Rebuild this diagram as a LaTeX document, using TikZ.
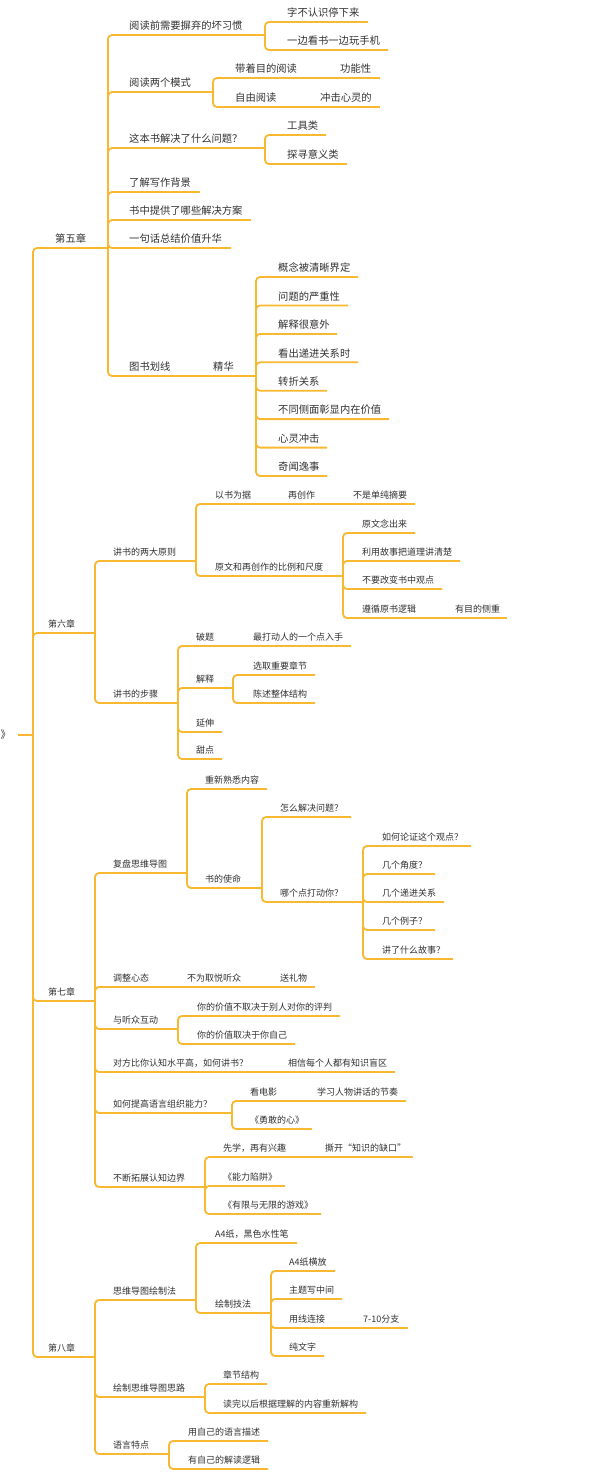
\documentclass[tikz,border=0pt]{standalone}
\usepackage{fontspec}
\newfontfamily\cjk{Noto Sans CJK SC}
\definecolor{lineorange}{RGB}{248,184,48}
\definecolor{textgray}{RGB}{50,50,50}
\tikzset{
  ln/.style={draw=lineorange, line width=1.8pt, rounded corners=4pt},
  lnst/.style={draw=lineorange, line width=1.8pt},
  tx/.style={anchor=south west, inner sep=0pt, text depth=5pt, text=textgray, font=\cjk\fontsize{9}{10}\selectfont},
  txb/.style={tx, font=\cjk\fontsize{10.3}{11}\selectfont},
}
% #1 name, #2 parent, #3 style, #4 text x, #5 line y, #6 line end x, #7 text
\newcommand\mmnode[7]{%
  \node[#3] (#1) at (#4,#5) {#7};
  \coordinate (#1-e) at (#6,#5);
  \draw[ln] (#2-e) |- (#1-e);
}
% same, continuing on the parent's line
\newcommand\mmchain[7]{%
  \node[#3] (#1) at (#4,#5) {#7};
  \coordinate (#1-e) at (#6,#5);
  \draw[lnst] (#2-e) -- (#1-e);
}
\begin{document}
\begin{tikzpicture}[x=1pt,y=-1pt]
\useasboundingbox[fill=white] (0,0) rectangle (597,1475);
% root
\node[txb, anchor=west] (root) at (0.5,737) {》};
\coordinate (root-s) at (18,735);
\coordinate (root-e) at (33,735);
\draw[lnst] (root-s) -- (root-e);
% chapters
\mmnode{ch5}{root}{txb}{55}{248}{108}{第五章}
\mmnode{ch6}{root}{tx}{48}{633}{95}{第六章}
\mmnode{ch7}{root}{tx}{48}{1001}{95}{第七章}
\mmnode{ch8}{root}{tx}{48}{1357}{95}{第八章}
% ---- chapter 5
\mmnode{a1}{ch5}{txb}{129}{35}{265}{阅读前需要摒弃的坏习惯}
\mmnode{a11}{a1}{txb}{287}{22}{368}{字不认识停下来}
\mmnode{a12}{a1}{txb}{287}{50}{388}{一边看书一边玩手机}
\mmnode{a2}{ch5}{txb}{129}{92}{213}{阅读两个模式}
\mmnode{a21}{a2}{txb}{235}{78}{318}{带着目的阅读}
\mmchain{a211}{a21}{txb}{340}{78}{380}{功能性}
\mmnode{a22}{a2}{txb}{235}{107}{298}{自由阅读}
\mmchain{a221}{a22}{txb}{320}{107}{380}{冲击心灵的}
\mmnode{a3}{ch5}{txb}{129}{148}{265}{这本书解决了什么问题？}
\mmnode{a31}{a3}{txb}{287}{135}{326}{工具类}
\mmnode{a32}{a3}{txb}{287}{164}{347}{探寻意义类}
\mmnode{a4}{ch5}{txb}{129}{192}{200}{了解写作背景}
\mmnode{a5}{ch5}{txb}{129}{220}{251}{书中提供了哪些解决方案}
\mmnode{a6}{ch5}{txb}{129}{248}{231}{一句话总结价值升华}
\mmnode{a7}{ch5}{txb}{129}{376}{191}{图书划线}
\mmchain{a71}{a7}{txb}{213}{376}{256}{精华}
\mmnode{a711}{a71}{txb}{278}{277}{358}{概念被清晰界定}
\mmnode{a712}{a71}{txb}{278}{305.4}{348}{问题的严重性}
\mmnode{a713}{a71}{txb}{278}{333.9}{337}{解释很意外}
\mmnode{a714}{a71}{txb}{278}{362.3}{358}{看出递进关系时}
\mmnode{a715}{a71}{txb}{278}{390.7}{327}{转折关系}
\mmnode{a716}{a71}{txb}{278}{419.1}{389}{不同侧面彰显内在价值}
\mmnode{a717}{a71}{txb}{278}{447.6}{327}{心灵冲击}
\mmnode{a718}{a71}{txb}{278}{476}{327}{奇闻逸事}
% ---- chapter 6
\mmnode{b1}{ch6}{tx}{113}{561}{196}{讲书的两大原则}
\mmnode{b11}{b1}{tx}{215}{504}{269}{以书为据}
\mmchain{b111}{b11}{tx}{288}{504}{334}{再创作}
\mmchain{b1111}{b111}{tx}{353}{504}{415}{不是单纯摘要}
\mmnode{b12}{b1}{tx}{215}{576}{343}{原文和再创作的比例和尺度}
\mmnode{b121}{b12}{tx}{362}{533}{415}{原文念出来}
\mmnode{b122}{b12}{tx}{362}{561}{460}{利用故事把道理讲清楚}
\mmnode{b123}{b12}{tx}{362}{589}{442}{不要改变书中观点}
\mmnode{b124}{b12}{tx}{362}{618}{436}{遵循原书逻辑}
\mmchain{b1241}{b124}{tx}{455}{618}{507}{有目的侧重}
\mmnode{b2}{ch6}{tx}{113}{703}{178}{讲书的步骤}
\mmnode{b21}{b2}{tx}{196}{646}{234}{破题}
\mmchain{b211}{b21}{tx}{253}{646}{351}{最打动人的一个点入手}
\mmnode{b22}{b2}{tx}{196}{688}{233}{解释}
\mmnode{b221}{b22}{tx}{253}{675}{315}{选取重要章节}
\mmnode{b222}{b22}{tx}{253}{703}{315}{陈述整体结构}
\mmnode{b23}{b2}{tx}{196}{732}{222}{延伸}
\mmnode{b24}{b2}{tx}{196}{759}{222}{甜点}
% ---- chapter 7
\mmnode{c1}{ch7}{tx}{113}{873}{187}{复盘思维导图}
\mmnode{c11}{c1}{tx}{205}{789}{267}{重新熟悉内容}
\mmnode{c12}{c1}{tx}{205}{888}{262}{书的使命}
\mmnode{c121}{c12}{tx}{280}{817}{351}{怎么解决问题？}
\mmnode{c122}{c12}{tx}{280}{902}{363}{哪个点打动你？}
\mmnode{c1221}{c122}{tx}{382}{846}{471}{如何论证这个观点？}
\mmnode{c1222}{c122}{tx}{382}{874}{435}{几个角度？}
\mmnode{c1223}{c122}{tx}{382}{902}{444}{几个递进关系}
\mmnode{c1224}{c122}{tx}{382}{930}{435}{几个例子？}
\mmnode{c1225}{c122}{tx}{382}{959}{453}{讲了什么故事？}
\mmnode{c2}{ch7}{tx}{113}{987}{168}{调整心态}
\mmchain{c21}{c2}{tx}{187}{987}{261}{不为取悦听众}
\mmchain{c211}{c21}{tx}{280}{987}{315}{送礼物}
\mmnode{c3}{ch7}{tx}{113}{1029}{178}{与听众互动}
\mmnode{c31}{c3}{tx}{197}{1016}{340}{你的价值不取决于别人对你的评判}
\mmnode{c32}{c3}{tx}{197}{1044}{295}{你的价值取决于你自己}
\mmnode{c4}{ch7}{tx}{113}{1072}{268}{对方比你认知水平高，如何讲书？}
\mmchain{c41}{c4}{tx}{288}{1072}{395}{相信每个人都有知识盲区}
\mmnode{c5}{ch7}{tx}{113}{1113}{232}{如何提高语言组织能力？}
\mmnode{c51}{c5}{tx}{250}{1101}{297}{看电影}
\mmchain{c511}{c51}{tx}{317}{1101}{406}{学习人物讲话的节奏}
\mmnode{c52}{c5}{tx}{250}{1129}{312}{《勇敢的心》}
\mmnode{c6}{ch7}{tx}{113}{1187}{205}{不断拓展认知边界}
\mmnode{c61}{c6}{tx}{223}{1157}{306}{先学，再有兴趣}
\mmchain{c611}{c61}{tx}{325}{1157}{413}{撕开“知识的缺口”}
\mmnode{c62}{c6}{tx}{223}{1186}{285}{《能力陷阱》}
\mmnode{c63}{c6}{tx}{223}{1214}{321}{《有限与无限的游戏》}
% ---- chapter 8
\mmnode{d1}{ch8}{tx}{113}{1300}{196}{思维导图绘制法}
\mmnode{d11}{d1}{tx}{215}{1243}{297}{A4纸，黑色水性笔}
\mmnode{d12}{d1}{tx}{215}{1313}{271}{绘制技法}
\mmnode{d121}{d12}{tx}{289}{1271}{335}{A4纸横放}
\mmnode{d122}{d12}{tx}{289}{1299}{342}{主题写中间}
\mmnode{d123}{d12}{tx}{289}{1328}{345}{用线连接}
\mmchain{d1231}{d123}{tx}{363}{1328}{408}{7-10分支}
\mmnode{d124}{d12}{tx}{289}{1356}{324}{纯文字}
\mmnode{d2}{ch8}{tx}{113}{1397}{205}{绘制思维导图思路}
\mmnode{d21}{d2}{tx}{223}{1384}{267}{章节结构}
\mmnode{d22}{d2}{tx}{223}{1413}{366}{读完以后根据理解的内容重新解构}
\mmnode{d3}{ch8}{tx}{113}{1454}{169}{语言特点}
\mmnode{d31}{d3}{tx}{188}{1441}{268}{用自己的语言描述}
\mmnode{d32}{d3}{tx}{188}{1469}{268}{有自己的解读逻辑}
\end{tikzpicture}
\end{document}
